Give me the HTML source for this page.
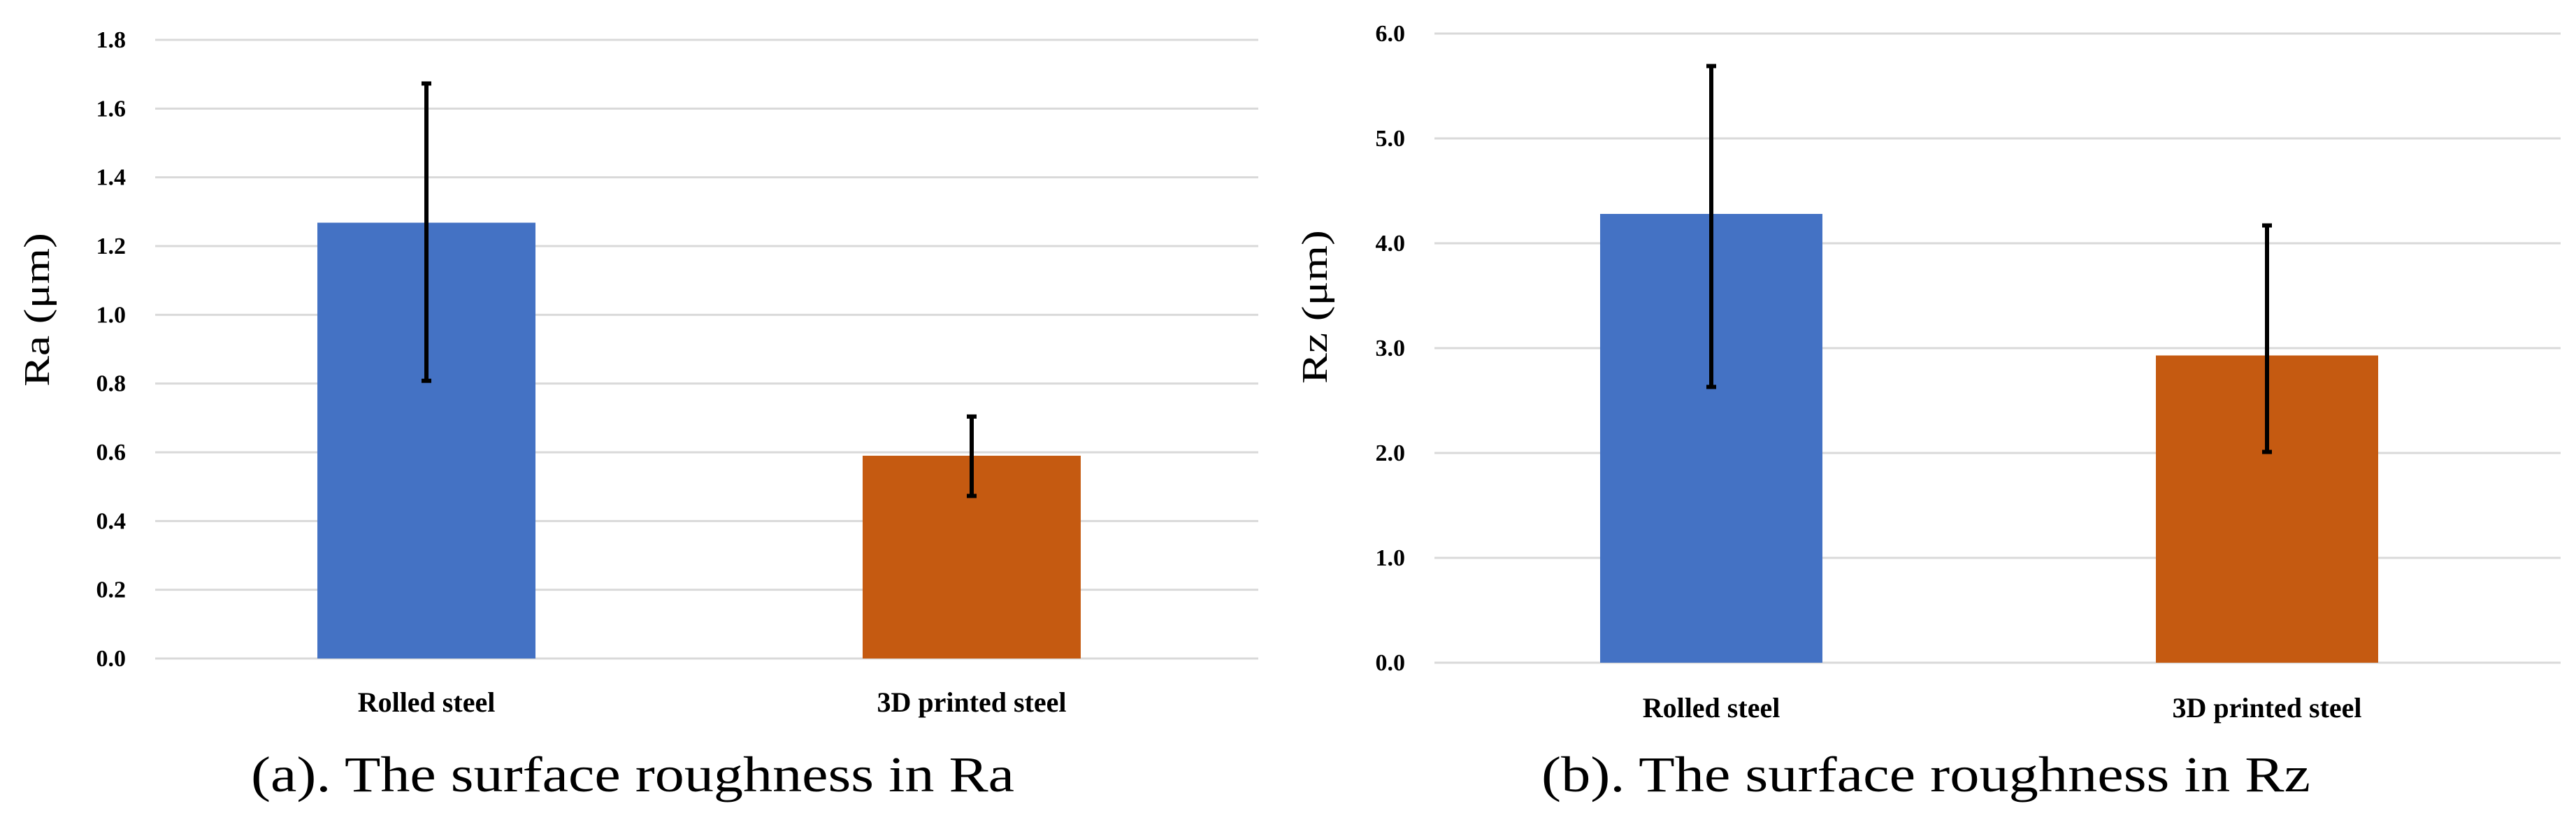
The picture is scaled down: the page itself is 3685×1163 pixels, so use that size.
<!DOCTYPE html>
<html><head><meta charset="utf-8"><style>
html,body{margin:0;padding:0;background:#fff;}
svg{display:block;}
</style></head><body>
<svg id="chart" width="3685" height="1163" viewBox="0 0 3685 1163" xmlns="http://www.w3.org/2000/svg" font-family="'Liberation Serif', serif"></svg>
<script>
const categories = ["Rolled steel", "3D printed steel"];
const raValues = [1.268, 0.59];
const raErrUpper = [1.673, 0.704];
const raErrLower = [0.808, 0.473];
const raTicks = ["0.0","0.2","0.4","0.6","0.8","1.0","1.2","1.4","1.6","1.8"];
const rzValues = [4.28, 2.93];
const rzErrUpper = [5.69, 4.17];
const rzErrLower = [2.63, 2.01];
const rzTicks = ["0.0","1.0","2.0","3.0","4.0","5.0","6.0"];
const colors = ["#4472c4", "#c55a11"];

const svg = document.getElementById('chart');
const NS = "http://www.w3.org/2000/svg";
function mk(tag, attrs, parent){
  const e = document.createElementNS(NS, tag);
  for (const k in attrs) e.setAttribute(k, attrs[k]);
  (parent||svg).appendChild(e);
  return e;
}

function drawPanel(cfg){
  const g = mk('g', {});
  
  
  const ticks = cfg.ticks;
  const vmax = parseFloat(ticks[ticks.length-1]);
  const y = v => cfg.y0 - (v / vmax) * (cfg.y0 - cfg.yTop);
  const xc = i => cfg.c0 + (cfg.c1 - cfg.c0) * i / (cfg.cats.length - 1);
  ticks.forEach(t => {
    const v = parseFloat(t);
    const l = mk('line', {x1:cfg.x0, x2:cfg.x1, y1:y(v), y2:y(v), stroke:'#d9d9d9', 'stroke-width':3}, g);
    
    
    const tx = mk('text', {x:cfg.x0 - 42, y:y(v) + 11, 'text-anchor':'end', 'font-size':34, 'font-weight':'bold', fill:'#000'}, g);
    tx.textContent = t;
    
    
  });
  cfg.cats.forEach((c, i) => {
    const bx = xc(i) - cfg.barW / 2;
    const r = mk('rect', {x:bx, y:y(cfg.vals[i]), width:cfg.barW, height:y(0) - y(cfg.vals[i]), fill:colors[i]}, g);
    
    
    const eg = mk('g', {stroke:'#000', 'stroke-width':6}, g);
    
    
    mk('line', {x1:xc(i), x2:xc(i), y1:y(cfg.up[i]), y2:y(cfg.lo[i])}, eg);
    mk('line', {x1:xc(i)-7, x2:xc(i)+7, y1:y(cfg.up[i]), y2:y(cfg.up[i])}, eg);
    mk('line', {x1:xc(i)-7, x2:xc(i)+7, y1:y(cfg.lo[i]), y2:y(cfg.lo[i])}, eg);
    const lt = mk('text', {x:xc(i), y:cfg.labY, 'text-anchor':'middle', 'font-size':40, 'font-weight':'bold', fill:'#000'}, g);
    lt.textContent = c;
    
    
  });
  const yt = mk('text', {x:0, y:0, 'text-anchor':'middle', 'font-size':52, fill:'#000', transform:`translate(${cfg.titleX},${cfg.titleY}) rotate(-90)`, textLength:220, lengthAdjust:'spacingAndGlyphs'}, g);
  yt.textContent = cfg.yTitle;
  
  
  const cap = mk('text', {x:cfg.capX, y:1132, 'text-anchor':'middle', 'font-size':72, fill:'#000', textLength:cfg.capW, lengthAdjust:'spacingAndGlyphs'}, g);
  cap.textContent = cfg.caption;
  
  
}

drawPanel({name:'ra-chart', x0:222, x1:1800, yTop:57, y0:942, c0:610, c1:1390, ticks:raTicks, cats:categories,
  vals:raValues, up:raErrUpper, lo:raErrLower, barW:312, labY:1018, titleX:70, titleY:443,
  yTitle:'Ra (μm)', caption:'(a). The surface roughness in Ra', capX:905, capW:1092});
drawPanel({name:'rz-chart', x0:2052, x1:3663, yTop:48, y0:948, c0:2448, c1:3243, ticks:rzTicks, cats:categories,
  vals:rzValues, up:rzErrUpper, lo:rzErrLower, barW:318, labY:1026, titleX:1898, titleY:439,
  yTitle:'Rz (μm)', caption:'(b). The surface roughness in Rz', capX:2755, capW:1100});
</script>
</body></html>
